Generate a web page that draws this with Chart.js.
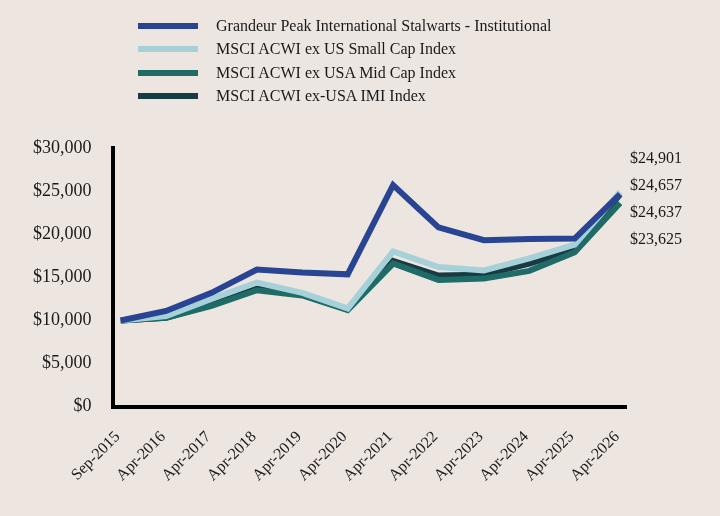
<!DOCTYPE html>
<html>
<head>
<meta charset="utf-8">
<script src="https://cdn.jsdelivr.net/npm/chart.js@4/dist/chart.umd.min.js"></script>
<style>
  html, body { margin: 0; padding: 0; background: #ede5df; }
  #wrap { position: relative; width: 720px; height: 516px; }
  #legend { position: absolute; left: 138px; top: 14px; font-family: "Liberation Serif", serif; font-size: 16px; color: #1a1a1a; }
  .item { display: flex; align-items: center; height: 23.5px; }
  .swatch { width: 60px; height: 6px; margin-right: 18px; }
</style>
</head>
<body>
<div id="wrap">
  <canvas id="growthChart" width="720" height="516"></canvas>
  <div id="legend"></div>
</div>
<script>
const periods = ["Sep-2015", "Apr-2016", "Apr-2017", "Apr-2018", "Apr-2019", "Apr-2020",
                 "Apr-2021", "Apr-2022", "Apr-2023", "Apr-2024", "Apr-2025", "Apr-2026"];

const seriesNames = [
    "Grandeur Peak International Stalwarts - Institutional",
    "MSCI ACWI ex US Small Cap Index",
    "MSCI ACWI ex USA Mid Cap Index",
    "MSCI ACWI ex-USA IMI Index"
];

const stalwarts = [10000, 11100, 13200, 15900, 15550, 15350, 25700, 20800, 19300, 19450, 19500, 24657];
const smallCap  = [10000, 10500, 12500, 14400, 13200, 11400, 18000, 16200, 15800, 17200, 18800, 24901];
const midCap    = [10000, 10300, 11700, 13500, 12900, 11200, 16600, 14700, 14850, 15750, 17900, 23625];
const imi       = [10000, 10300, 11800, 13700, 13000, 11300, 16900, 15200, 15300, 16600, 18200, 24637];

const endLabels = ["$24,901", "$24,657", "$24,637", "$23,625"];

const colors = ["#2a4494", "#a6d1d8", "#1f6b68", "#173b42"];

const yTicks = [0, 5000, 10000, 15000, 20000, 25000, 30000];

// Build legend
const legendEl = document.getElementById("legend");
seriesNames.forEach(function (name, i) {
    const row = document.createElement("div");
    row.className = "item";
    row.innerHTML = '<span class="swatch" style="background:' + colors[i] + '"></span><span>' + name + '</span>';
    legendEl.appendChild(row);
});

function toPoints(values) {
    return values.map(function (v, i) { return { x: i, y: v }; });
}

// Draws the ending values to the right of the plot
const endLabelPlugin = {
    id: "endLabels",
    afterDraw: function (chart) {
        const ctx = chart.ctx;
        const area = chart.chartArea;
        ctx.save();
        ctx.font = "16px 'Liberation Serif'";
        ctx.fillStyle = "#1a1a1a";
        ctx.textAlign = "left";
        ctx.textBaseline = "middle";
        endLabels.forEach(function (t, i) {
            ctx.fillText(t, area.right + 4, area.top + 11 + i * 27);
        });
        ctx.restore();
    }
};

const ctx = document.getElementById("growthChart").getContext("2d");

new Chart(ctx, {
    type: "line",

    data: {
        datasets: [stalwarts, smallCap, midCap, imi].map(function (vals, i) {
            return {
                label: seriesNames[i],
                data: toPoints(vals),
                borderColor: colors[i],
                backgroundColor: colors[i],
                borderWidth: 6,
                pointRadius: 0,
                tension: 0,
                fill: false
            };
        })
    },

    options: {
        responsive: false,
        animation: false,
        layout: {
            padding: { left: 12, right: 94, top: 148, bottom: 10 }
        },
        plugins: {
            legend: { display: false },
            tooltip: { enabled: false }
        },
        scales: {
            x: {
                type: "linear",
                min: -0.18,
                max: 11.13,
                grid: { display: false, drawTicks: false },
                border: { display: true, color: "#000", width: 4 },
                afterBuildTicks: function (scale) {
                    scale.ticks = periods.map(function (p, i) { return { value: i }; });
                },
                ticks: {
                    autoSkip: false,
                    minRotation: 45,
                    maxRotation: 45,
                    padding: 21,
                    labelOffset: -3,
                    color: "#1a1a1a",
                    font: { family: "'Liberation Serif'", size: 16 },
                    callback: function (value) {
                        return periods[value];
                    }
                }
            },
            y: {
                min: 0,
                max: 30000,
                grid: { display: false, drawTicks: false },
                border: { display: true, color: "#000", width: 4 },
                afterBuildTicks: function (scale) {
                    scale.ticks = yTicks.map(function (v) { return { value: v }; });
                },
                ticks: {
                    padding: 21,
                    color: "#1a1a1a",
                    font: { family: "'Liberation Serif'", size: 18 },
                    callback: function (value) {
                        return "$" + value.toLocaleString("en-US");
                    }
                }
            }
        }
    },

    plugins: [endLabelPlugin]
});
</script>
</body>
</html>
